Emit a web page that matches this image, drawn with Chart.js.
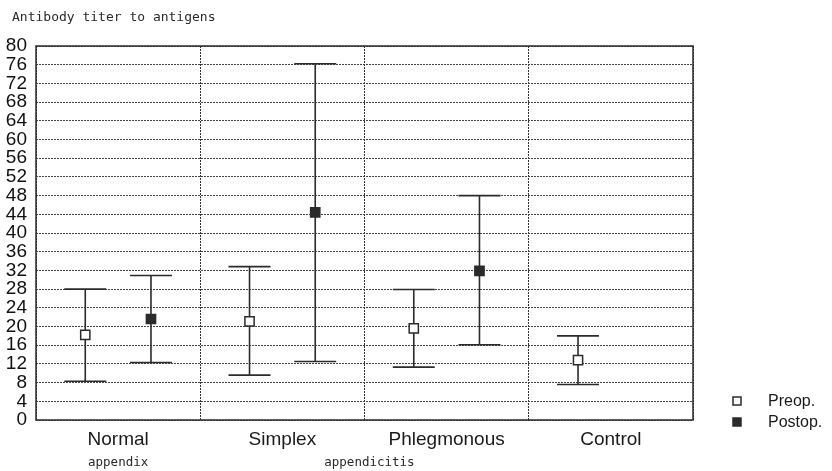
<!DOCTYPE html>
<html>
<head>
<meta charset="utf-8">
<title>Antibody titer to antigens</title>
<script src="https://cdn.jsdelivr.net/npm/chart.js@4/dist/chart.umd.min.js"></script>
<style>
  html, body { margin: 0; padding: 0; background: #fff; }
  #wrap { width: 832px; height: 471px; }
</style>
</head>
<body>
<div id="wrap"><canvas id="titerChart" width="832" height="471"></canvas></div>
<script>
// groups along the x axis
const categories = ['Normal', 'Simplex', 'Phlegmonous', 'Control'];
const groupNotes = ['appendix', 'appendicitis'];

// mean and range per group, preoperative
const preopMean = [18.2, 21.1, 19.6, 12.8];
const preopLow = [8.3, 9.6, 11.3, 7.6];
const preopHigh = [28.0, 32.8, 27.9, 18.0];

// postoperative (no postop sample for controls)
const postopMean = [21.6, 44.4, 31.9, null];
const postopLow = [12.3, 12.5, 16.1, null];
const postopHigh = [30.9, 76.2, 48.0, null];

const yTicks = [];
for (let v = 0; v <= 80; v += 4) yTicks.push(v);

const INK = '#2b2b2b';
const SANS = '"Liberation Sans", Arial, sans-serif';
const MONO = '"DejaVu Sans Mono", monospace';

function points(means, shift) {
    const out = [];
    means.forEach((m, i) => {
        if (m !== null) out.push({ x: i + 0.5 + shift, y: m });
    });
    return out;
}

// whiskers drawn under the markers
const errorBars = {
    id: 'errorBars',
    beforeDatasetsDraw(chart) {
        const { ctx, scales: { x, y } } = chart;
        const sets = [
            { shift: -0.2, lo: preopLow, hi: preopHigh },
            { shift: 0.2, lo: postopLow, hi: postopHigh }
        ];
        ctx.save();
        ctx.strokeStyle = INK;
        ctx.lineWidth = 1.6;
        sets.forEach(s => {
            s.lo.forEach((lo, i) => {
                if (lo === null) return;
                const px = x.getPixelForValue(i + 0.5 + s.shift);
                const top = y.getPixelForValue(s.hi[i]);
                const bot = y.getPixelForValue(lo);
                ctx.beginPath();
                ctx.moveTo(px, top);
                ctx.lineTo(px, bot);
                ctx.moveTo(px - 21, top);
                ctx.lineTo(px + 21, top);
                ctx.moveTo(px - 21, bot);
                ctx.lineTo(px + 21, bot);
                ctx.stroke();
            });
        });
        ctx.restore();
    }
};

// frame, title, second line of the group labels and the legend
const decorations = {
    id: 'decorations',
    afterDraw(chart) {
        const { ctx, chartArea: a, scales: { x } } = chart;
        ctx.save();
        ctx.strokeStyle = INK;
        ctx.lineWidth = 1.5;
        ctx.strokeRect(a.left, a.top, a.right - a.left, a.bottom - a.top);

        ctx.fillStyle = '#2a2a2a';
        ctx.font = '13px ' + MONO;
        ctx.textBaseline = 'middle';
        ctx.textAlign = 'left';
        ctx.fillText('Antibody titer to antigens', 12, 18);

        ctx.textAlign = 'center';
        ctx.font = '12.5px ' + MONO;
        ctx.fillText(groupNotes[0], x.getPixelForValue(0.5), 463);
        ctx.fillText(groupNotes[1], x.getPixelForValue(2.03), 463);

        const items = [
            { label: 'Preop.', fill: '#fff', y: 401 },
            { label: 'Postop.', fill: INK, y: 422 }
        ];
        ctx.textAlign = 'left';
        ctx.font = '16px ' + SANS;
        items.forEach(it => {
            ctx.fillStyle = it.fill;
            ctx.fillRect(733, it.y - 4, 8, 8);
            ctx.strokeStyle = INK;
            ctx.lineWidth = 1.5;
            ctx.strokeRect(733, it.y - 4, 8, 8);
            ctx.fillStyle = '#1a1a1a';
            ctx.fillText(it.label, 768, it.y + 1);
        });
        ctx.restore();
    }
};

new Chart(document.getElementById('titerChart'), {
    type: 'scatter',
    data: {
        datasets: [
            {
                label: 'Preop.',
                data: points(preopMean, -0.2),
                pointStyle: 'rect',
                pointRadius: 6.5,
                pointBorderWidth: 1.5,
                borderColor: INK,
                backgroundColor: '#fff'
            },
            {
                label: 'Postop.',
                data: points(postopMean, 0.2),
                pointStyle: 'rect',
                pointRadius: 6.5,
                pointBorderWidth: 1.5,
                borderColor: INK,
                backgroundColor: INK
            }
        ]
    },
    options: {
        responsive: false,
        animation: false,
        layout: { padding: { top: 46, right: 139, bottom: 0, left: 0 } },
        plugins: {
            legend: { display: false },
            tooltip: { enabled: false }
        },
        scales: {
            x: {
                type: 'linear',
                min: 0,
                max: 4,
                afterBuildTicks(scale) {
                    const t = [];
                    for (let v = 0; v <= 4; v += 0.5) t.push({ value: v });
                    scale.ticks = t;
                },
                afterFit(scale) { scale.height = 51; },
                grid: {
                    drawTicks: false,
                    lineWidth: 1,
                    color: c => (c.tick && c.tick.value % 1 === 0) ? '#333' : 'rgba(0,0,0,0)'
                },
                border: { display: false, dash: [2, 1] },
                ticks: {
                    autoSkip: false,
                    maxRotation: 0,
                    padding: 8,
                    color: '#1a1a1a',
                    font: { family: SANS, size: 19 },
                    callback: v => (v % 1 === 0.5) ? categories[Math.floor(v)] : ''
                }
            },
            y: {
                min: 0,
                max: 80,
                afterBuildTicks(scale) {
                    scale.ticks = yTicks.map(v => ({ value: v }));
                },
                afterFit(scale) { scale.width = 36; },
                grid: {
                    drawTicks: false,
                    lineWidth: 1,
                    color: '#444'
                },
                border: { display: false, dash: [2, 1] },
                ticks: {
                    autoSkip: false,
                    padding: 9,
                    color: '#111',
                    font: { family: SANS, size: 19 }
                }
            }
        }
    },
    plugins: [errorBars, decorations]
});
</script>
</body>
</html>
